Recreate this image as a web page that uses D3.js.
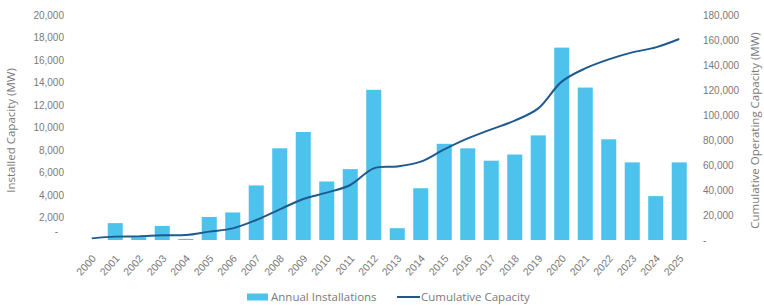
<!DOCTYPE html>
<html>
<head>
<meta charset="utf-8">
<script src="https://cdn.jsdelivr.net/npm/d3@7"></script>
<style>
  body { margin: 0; background: #fff; }
  svg { display: block; font-family: "Open Sans", "Noto Sans", sans-serif; }
</style>
</head>
<body>
<div id="chart"></div>
<script>
const years = ["2000", "2001", "2002", "2003", "2004", "2005", "2006", "2007", "2008", "2009",
  "2010", "2011", "2012", "2013", "2014", "2015", "2016", "2017", "2018", "2019",
  "2020", "2021", "2022", "2023", "2024", "2025"]
const annual = [0, 1500, 250, 1250, 100, 2050, 2450, 4850, 8150, 9600,
  5200, 6300, 13350, 1050, 4600, 8550, 8150, 7050, 7600, 9300,
  17100, 13550, 8950, 6900, 3900, 6900]
const cumulative = [1300, 2700, 2900, 3800, 4000, 6700, 9300, 16000, 24500, 32800,
  37900, 44000, 57300, 58800, 62700, 72500, 81300, 88500, 95500, 105300,
  126700, 137300, 144500, 150100, 154100, 160800]
const leftTicks = [0, 2000, 4000, 6000, 8000, 10000, 12000, 14000, 16000, 18000, 20000]
const rightTicks = [0, 20000, 40000, 60000, 80000, 100000, 120000, 140000, 160000, 180000]

const W = 764, H = 306
const margin = { top: 15, right: 73, bottom: 66, left: 80 }
const width = W - margin.left - margin.right
const height = H - margin.top - margin.bottom

const barColor = "#4cc2ec", lineColor = "#1f5a8e", textColor = "#7a7a7a"

const svg = d3.select("#chart").append("svg")
  .attr("width", W).attr("height", H)

const g = svg.append("g").attr("transform", `translate(${margin.left}, ${margin.top})`)

const x = d3.scaleBand().domain(years).range([0, 611]).paddingInner(0.36).paddingOuter(0.18)
const yL = d3.scaleLinear().domain([0, 20000]).range([height, 0])
const yR = d3.scaleLinear().domain([0, 180000]).range([height, 0])

const fmt = d => d === 0 ? "-" : d3.format(",")(d)

// left axis
const axL = g.append("g")
  .call(d3.axisLeft(yL).tickValues(leftTicks).tickFormat(fmt).tickSize(0).tickPadding(16))
axL.select(".domain").remove()
axL.selectAll("text").attr("fill", textColor).style("font-size", "10px")
axL.selectAll("text").filter(d => d === 0).attr("dx", "-6").attr("y", -9)

// right axis
const axR = g.append("g").attr("transform", `translate(${width}, 0)`)
  .call(d3.axisRight(yR).tickValues(rightTicks).tickFormat(fmt).tickSize(0).tickPadding(12))
axR.select(".domain").remove()
axR.selectAll("text").attr("fill", textColor).style("font-size", "10px")

// bars
g.selectAll(".bar")
  .data(years)
  .join("rect")
  .attr("class", "bar")
  .attr("x", d => x(d))
  .attr("width", x.bandwidth())
  .attr("y", (d, i) => yL(annual[i]))
  .attr("height", (d, i) => height - yL(annual[i]))
  .attr("fill", barColor)

// cumulative line
g.append("path")
  .datum(years)
  .attr("fill", "none")
  .attr("stroke", lineColor)
  .attr("stroke-width", 2)
  .attr("d", d3.line()
    .curve(d3.curveCatmullRom.alpha(0.5))
    .x(d => x(d) + x.bandwidth() / 2)
    .y((d, i) => yR(cumulative[i])))

// x labels
const axX = g.append("g").attr("transform", `translate(0, ${height})`)
  .call(d3.axisBottom(x).tickSize(0).tickPadding(0))
axX.select(".domain").remove()
axX.selectAll("text")
  .attr("fill", textColor)
  .style("font-size", "10.5px")
  .attr("text-anchor", "end")
  .attr("dy", "0")
  .attr("transform", "translate(5, 19) rotate(-48)")

// axis titles
svg.append("text")
  .attr("transform", `translate(15, ${margin.top + height / 2 + 3}) rotate(-90)`)
  .attr("text-anchor", "middle")
  .attr("fill", textColor)
  .style("font-size", "11.5px")
  .text("Installed Capacity (MW)")

svg.append("text")
  .attr("transform", `translate(759, ${margin.top + height / 2 + 3}) rotate(-90)`)
  .attr("text-anchor", "middle")
  .attr("fill", textColor)
  .style("font-size", "11.5px")
  .text("Cumulative Operating Capacity (MW)")

// legend
const leg = svg.append("g").attr("transform", "translate(247, 297)")
leg.append("rect").attr("x", 0).attr("y", -3.5).attr("width", 21).attr("height", 7).attr("fill", barColor)
leg.append("text").attr("x", 24).attr("y", 4).attr("fill", textColor).style("font-size", "11.5px")
  .text("Annual Installations")
leg.append("line").attr("x1", 150).attr("x2", 173).attr("y1", 0).attr("y2", 0)
  .attr("stroke", lineColor).attr("stroke-width", 2)
leg.append("text").attr("x", 174).attr("y", 4).attr("fill", textColor).style("font-size", "11.5px")
  .text("Cumulative Capacity")
</script>
</body>
</html>
